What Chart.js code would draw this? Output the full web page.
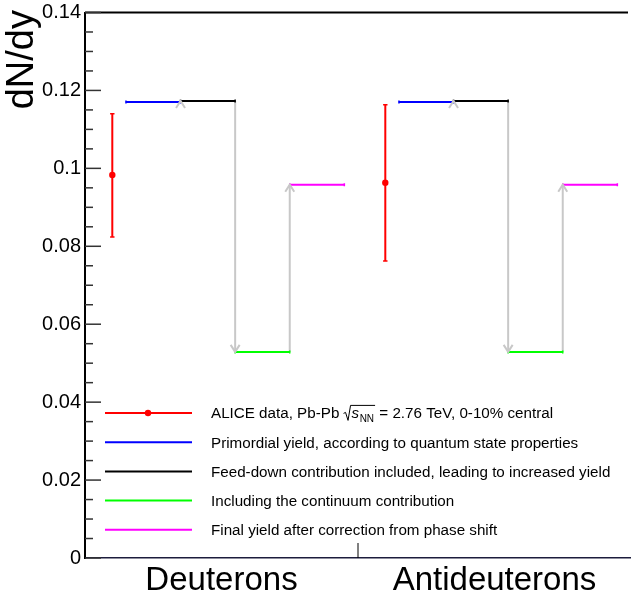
<!DOCTYPE html>
<html><head><meta charset="utf-8">
<script src="https://cdn.jsdelivr.net/npm/chart.js@4"></script>
<style>html,body{margin:0;padding:0;background:#fff;} #wrap{width:631px;height:601px;position:relative;}</style>
</head><body><div id="wrap"><canvas id="c"></canvas></div>
<script>
// ---- data ----
const categories = ['Deuterons', 'Antideuterons'];
const aliceYield = [0.0983, 0.0963];
const aliceErrLow = [0.0824, 0.0762];
const aliceErrHigh = [0.1140, 0.1163];
const primordialYield = [0.1170, 0.1170];
const feedDownYield = [0.1173, 0.1173];
const continuumYield = [0.0529, 0.0529];
const finalYield = [0.0958, 0.0958];
const yTickLabels = ['0', '0.02', '0.04', '0.06', '0.08', '0.1', '0.12', '0.14'];
const legendLabels = [
  ['ALICE data, Pb-Pb ', 'SQRT', ' = 2.76 TeV, 0-10% central'],
  ['Primordial yield, according to quantum state properties'],
  ['Feed-down contribution included, leading to increased yield'],
  ['Including the continuum contribution'],
  ['Final yield after correction from phase shift']
];

// ---- layout / style ----
const FONT = '"Liberation Sans", Arial, Helvetica, sans-serif';
const RED = '#ff0000', BLUE = '#0000ff', BLACK = '#000000', GREEN = '#00ff00', MAGENTA = '#ff00ff', GRAY = '#c8c8c8';
const POS = {alice: 0.1, s0: 0.15, s1: 0.35, s2: 0.55, s3: 0.75, s4: 0.95};
const legendColors = [RED, BLUE, BLACK, GREEN, MAGENTA];

function segment(val, i, a, b, color) {
  return {
    data: [{x: i + a, y: val}, {x: i + b, y: val}],
    borderColor: color, borderWidth: 2, showLine: true,
    pointStyle: 'line', rotation: 90, pointRadius: 1.5,
    pointBorderColor: color, pointBorderWidth: 1.5, pointBackgroundColor: color
  };
}
function arrow(from, to, xpos) {
  return {
    data: [{x: xpos, y: from}, {x: xpos, y: to}],
    borderColor: GRAY, borderWidth: 2, showLine: true, pointRadius: 0, arrow: true
  };
}

const datasets = [];
categories.forEach((c, i) => {
  datasets.push({
    data: [{x: i + POS.alice, y: aliceYield[i]}], showLine: false,
    pointRadius: 3.2, pointBackgroundColor: RED, pointBorderColor: RED, pointBorderWidth: 0
  });
  datasets.push({
    data: [{x: i + POS.alice, y: aliceErrLow[i]}, {x: i + POS.alice, y: aliceErrHigh[i]}],
    showLine: true, borderColor: RED, borderWidth: 2,
    pointStyle: 'line', pointRadius: 2.2, pointBorderColor: RED, pointBorderWidth: 1.5
  });
  datasets.push(segment(primordialYield[i], i, POS.s0, POS.s1, BLUE));
  datasets.push(segment(feedDownYield[i], i, POS.s1, POS.s2, BLACK));
  datasets.push(segment(continuumYield[i], i, POS.s2, POS.s3, GREEN));
  datasets.push(segment(finalYield[i], i, POS.s3, POS.s4, MAGENTA));
});
categories.forEach((c, i) => {
  datasets.push(arrow(primordialYield[i], feedDownYield[i], i + POS.s1));
  datasets.push(arrow(feedDownYield[i], continuumYield[i], i + POS.s2));
  datasets.push(arrow(continuumYield[i], finalYield[i], i + POS.s3));
});

const decorPlugin = {
  id: 'decor',
  afterDatasetsDraw(chart) {
    const ctx = chart.ctx;
    ctx.save();
    ctx.strokeStyle = GRAY; ctx.lineWidth = 2; ctx.lineJoin = 'miter';
    chart.data.datasets.forEach((ds, idx) => {
      if (!ds.arrow) return;
      const m = chart.getDatasetMeta(idx);
      const p0 = m.data[0], p1 = m.data[1];
      let dir = Math.sign(p1.y - p0.y); if (dir === 0) dir = -1;
      ctx.beginPath();
      ctx.moveTo(p1.x - 4.5, p1.y - dir * 7);
      ctx.lineTo(p1.x, p1.y);
      ctx.lineTo(p1.x + 4.5, p1.y - dir * 7);
      ctx.stroke();
    });
    ctx.restore();
  },
  afterDraw(chart) {
    const ctx = chart.ctx, ca = chart.chartArea;
    const ys = chart.scales.y, xs = chart.scales.x;
    ctx.save();
    // top frame
    ctx.strokeStyle = '#000'; ctx.lineWidth = 2;
    ctx.beginPath(); ctx.moveTo(ca.left, ca.top); ctx.lineTo(Math.min(ca.right, 628), ca.top); ctx.stroke();
    // y ticks inside
    ctx.lineWidth = 1.5; ctx.strokeStyle = '#333';
    ys.ticks.forEach(t => {
      const y = ys.getPixelForValue(t.value);
      const k = Math.round(t.value / 0.02);
      const major = Math.abs(t.value - k * 0.02) < 1e-9;
      ctx.beginPath(); ctx.moveTo(ca.left, y); ctx.lineTo(ca.left + (major ? 16 : 8), y); ctx.stroke();
    });
    // x tick at category boundary
    const xb = xs.getPixelForValue(1);
    ctx.strokeStyle = '#000'; ctx.lineWidth = 1;
    ctx.beginPath(); ctx.moveTo(xb, ca.bottom); ctx.lineTo(xb, ca.bottom - 15); ctx.stroke();
    // category labels
    ctx.fillStyle = '#000';
    ctx.font = '33px ' + FONT; ctx.textAlign = 'center'; ctx.textBaseline = 'alphabetic';
    categories.forEach((c, i) => ctx.fillText(c, xs.getPixelForValue(i + 0.5), 590));
    // y title
    ctx.save();
    ctx.translate(33, 10); ctx.rotate(-Math.PI / 2);
    ctx.font = '38px ' + FONT; ctx.textAlign = 'right'; ctx.textBaseline = 'alphabetic';
    ctx.fillText('dN/dy', 0, 0);
    ctx.restore();
    // legend
    const lx0 = 105, lx1 = 192, tx = 211, y0 = 413, dy = 29.2;
    legendLabels.forEach((parts, r) => {
      const yc = y0 + r * dy, yb = yc + 5.4;
      ctx.strokeStyle = legendColors[r]; ctx.lineWidth = 2;
      ctx.beginPath(); ctx.moveTo(lx0, yc); ctx.lineTo(lx1, yc); ctx.stroke();
      if (r === 0) {
        ctx.fillStyle = RED; ctx.beginPath(); ctx.arc(148, yc, 3.2, 0, Math.PI * 2); ctx.fill();
      }
      ctx.fillStyle = '#000'; ctx.textAlign = 'left'; ctx.textBaseline = 'alphabetic';
      let x = tx;
      parts.forEach(p => {
        ctx.font = '15.2px ' + FONT;
        if (p === 'SQRT') {
          const xs0 = x;
          ctx.font = 'italic 15.2px ' + FONT;
          const sx = xs0 + 8;
          ctx.fillText('s', sx, yb);
          const sw = ctx.measureText('s').width;
          ctx.font = '10px ' + FONT;
          ctx.fillText('NN', sx + sw + 0.5, yb + 3.5);
          const nw = ctx.measureText('NN').width;
          const xe = sx + sw + 0.5 + nw + 1;
          ctx.strokeStyle = '#000'; ctx.lineWidth = 1;
          ctx.beginPath();
          ctx.moveTo(xs0, yb - 5); ctx.lineTo(xs0 + 2, yb - 6);
          ctx.lineTo(xs0 + 4.5, yb + 2); ctx.lineTo(xs0 + 7, yb - 13); ctx.lineTo(xe, yb - 13);
          ctx.stroke();
          x = xe;
        } else {
          ctx.fillText(p, x, yb);
          x += ctx.measureText(p).width;
        }
      });
    });
    ctx.restore();
  }
};

new Chart(document.getElementById('c'), {
  type: 'scatter',
  data: {datasets},
  options: {
    responsive: true, maintainAspectRatio: false, animation: false,
    layout: {autoPadding: false, padding: {top: 12.5, left: 0, right: 0, bottom: 0}},
    plugins: {legend: {display: false}, tooltip: {enabled: false}},
    scales: {
      x: {
        type: 'linear', min: 0, max: 2,
        afterFit: s => { s.height = 43; s.paddingRight = 0; s.paddingLeft = 0; },
        ticks: {display: false},
        grid: {display: true, drawOnChartArea: false, drawTicks: false},
        border: {display: true, color: '#1c1c3c', width: 1.5}
      },
      y: {
        type: 'linear', min: 0, max: 0.14,
        afterBuildTicks: s => { const t = []; for (let k = 0; k <= 28; k++) t.push({value: k * 0.005}); s.ticks = t; },
        afterFit: s => { s.width = 85; s.paddingTop = 0; s.paddingBottom = 0; },
        ticks: {
          autoSkip: false, padding: 4, color: '#000', font: {size: 20, family: FONT},
          callback: v => { const k = Math.round(v / 0.02); return Math.abs(v - k * 0.02) < 1e-9 ? yTickLabels[k] : ''; }
        },
        grid: {display: true, drawOnChartArea: false, drawTicks: false},
        border: {display: true, color: '#000', width: 2}
      }
    }
  },
  plugins: [decorPlugin]
});
</script></body></html>
